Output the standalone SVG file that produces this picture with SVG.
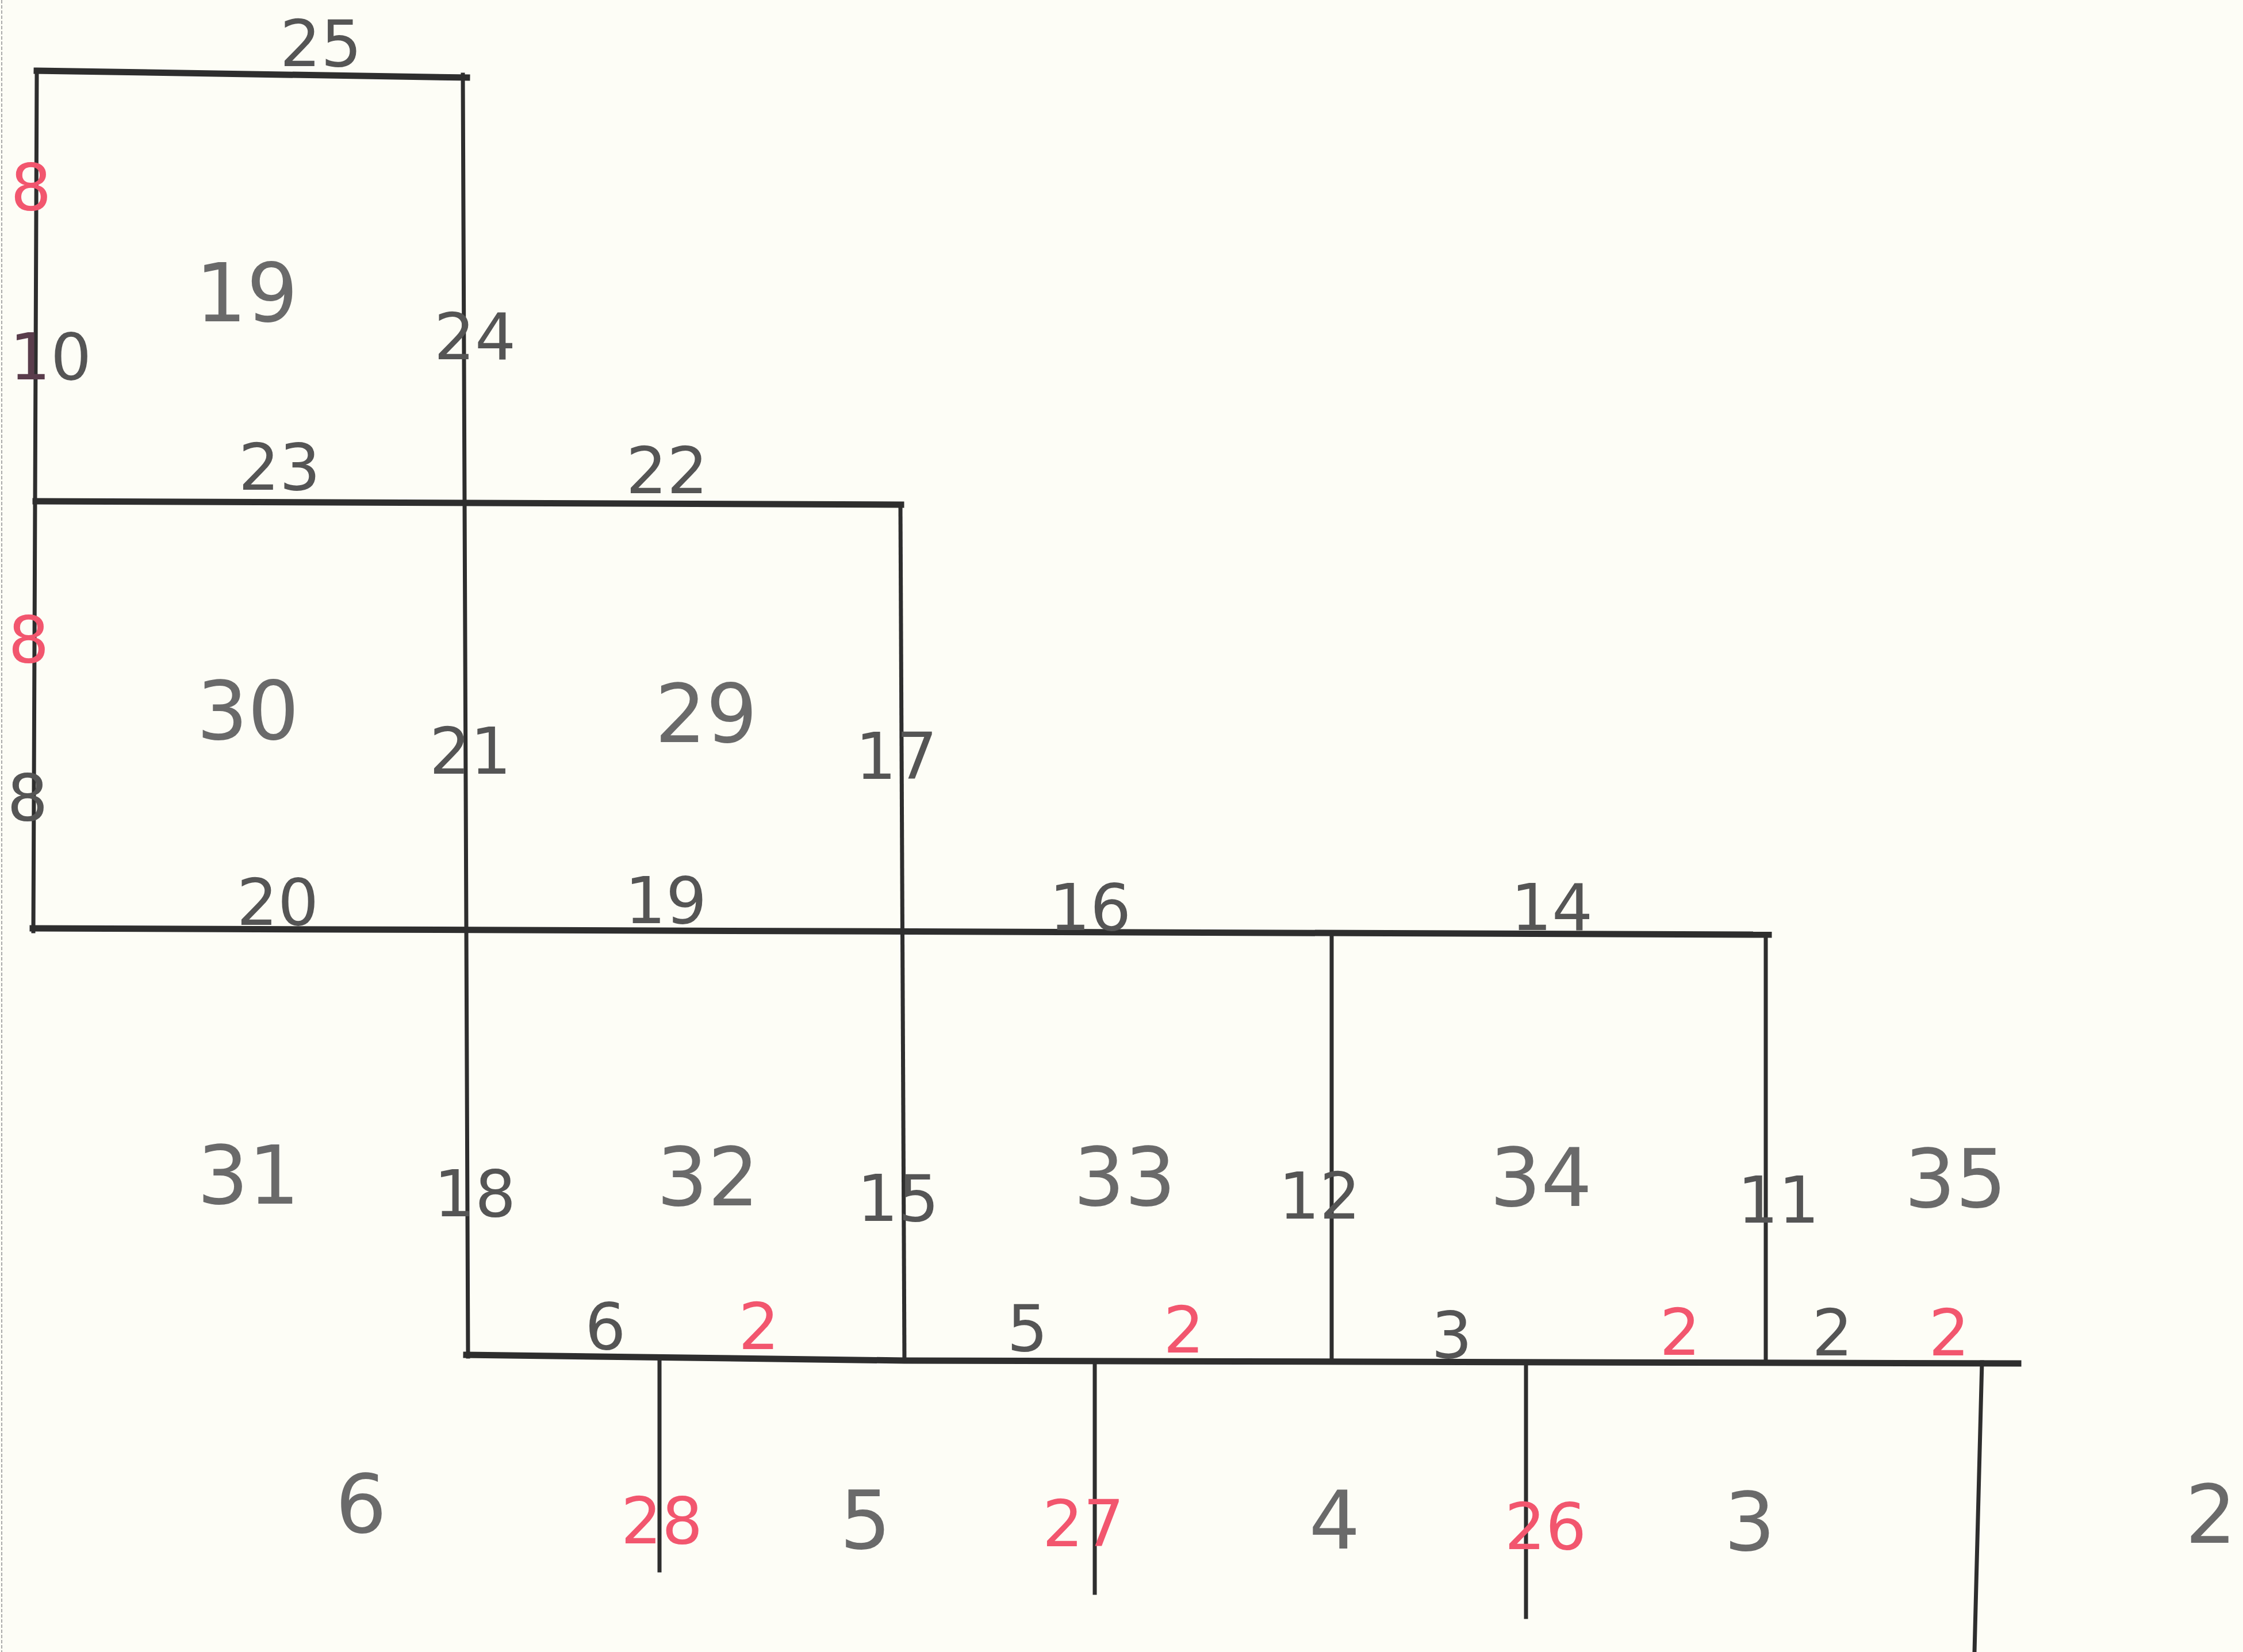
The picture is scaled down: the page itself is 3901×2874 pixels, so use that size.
<svg xmlns="http://www.w3.org/2000/svg" width="3901" height="2874" viewBox="0 0 3901 2874">
<style>
.h{stroke:#2e2e2e;stroke-width:11;fill:none;stroke-linecap:square}
.v{stroke:#2e2e2e;stroke-width:7;fill:none;stroke-linecap:square}
.e{font-family:"DejaVu Sans","Liberation Sans",sans-serif;font-size:112px;fill:#555;text-anchor:middle}
.r{fill:#f2566e}
.big{font-family:"DejaVu Sans","Liberation Sans",sans-serif;font-size:140px;fill:#6a6a6a;text-anchor:middle}
</style>
<rect width="3901" height="2874" fill="#fdfdf6"/>
<line x1="3" y1="0" x2="3" y2="2874" stroke="#aaa" stroke-width="2" stroke-dasharray="6 3"/>
<g id="lines">
<line class="h" x1="64" y1="123" x2="812" y2="135"/>
<line class="v" x1="64" y1="123" x2="58" y2="1620"/>
<line class="v" x1="805" y1="130" x2="814" y2="2360"/>
<line class="h" x1="62" y1="872" x2="1567" y2="878"/>
<line class="v" x1="1566" y1="878" x2="1573" y2="2368"/>
<line class="h" x1="57" y1="1615" x2="3076" y2="1626"/>
<line class="v" x1="2316" y1="1623" x2="2316" y2="2368"/>
<line class="v" x1="3071" y1="1626" x2="3071" y2="2370"/>
<polyline class="h" points="811,2357 1573,2367 3510,2372"/>
<line class="v" x1="1147" y1="2366" x2="1147" y2="2732"/>
<line class="v" x1="1904" y1="2368" x2="1904" y2="2771"/>
<line class="v" x1="2654" y1="2369" x2="2654" y2="2813"/>
<line class="v" x1="3447" y1="2370" x2="3434" y2="2874"/>
</g>
<g id="edge-labels">
<text class="e" x="558" y="115">25</text>
<text class="e r" x="54" y="365">8</text>
<text class="e" x="88" y="660"><tspan fill="#5a3d4c">1</tspan>0</text>
<text class="e" x="826" y="625">24</text>
<text class="e" x="486" y="852">23</text>
<text class="e" x="1160" y="858">22</text>
<text class="e r" x="50" y="1152">8</text>
<text class="e" x="48" y="1427">8</text>
<text class="e" x="818" y="1346">21</text>
<text class="e" x="1559" y="1355">17</text>
<text class="e" x="483" y="1609">20</text>
<text class="e" x="1158" y="1606">19</text>
<text class="e" x="1896" y="1618">16</text>
<text class="e" x="2699" y="1618">14</text>
<text class="e" x="826" y="2116">18</text>
<text class="e" x="1562" y="2124">15</text>
<text class="e" x="2295" y="2120">12</text>
<text class="e" x="3093" y="2127">11</text>
<text class="e" x="1053" y="2347">6</text>
<text class="e r" x="1320" y="2347">2</text>
<text class="e" x="1787" y="2350">5</text>
<text class="e r" x="2059" y="2353">2</text>
<text class="e" x="2525" y="2362">3</text>
<text class="e r" x="2922" y="2357">2</text>
<text class="e" x="3187" y="2358">2</text>
<text class="e r" x="3390" y="2358">2</text>
<text class="e r" x="1151" y="2685">28</text>
<text class="e r" x="1884" y="2690">27</text>
<text class="e r" x="2688" y="2695">26</text>
</g>
<g id="region-labels">
<text class="big" x="429" y="559">19</text>
<text class="big" x="431" y="1286">30</text>
<text class="big" x="1228" y="1291">29</text>
<text class="big" x="432" y="2094">31</text>
<text class="big" x="1231" y="2097">32</text>
<text class="big" x="1956" y="2097">33</text>
<text class="big" x="2680" y="2098">34</text>
<text class="big" x="3401" y="2100">35</text>
<text class="big" x="628" y="2666">6</text>
<text class="big" x="1505" y="2694">5</text>
<text class="big" x="2321" y="2694">4</text>
<text class="big" x="3043" y="2697">3</text>
<text class="big" x="3845" y="2684">2</text>
</g>
</svg>
